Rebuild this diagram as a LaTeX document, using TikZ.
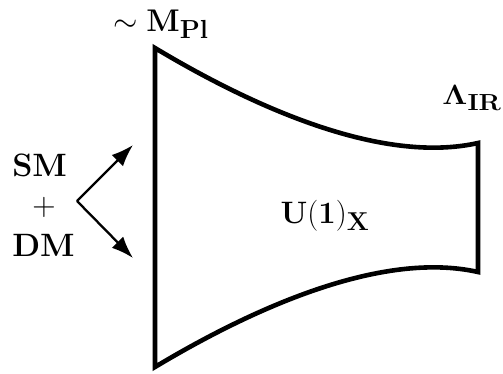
\documentclass[tikz,border=0pt]{standalone}
\usepackage{amsmath}
\usetikzlibrary{arrows.meta}
\begin{document}
\begin{tikzpicture}[x=1pt,y=-1pt,
  wall/.style={line width=4.6pt},
  ray/.style={line width=2.3pt,-{Latex[length=22pt,width=16pt]}},
  lbl/.style={inner sep=0pt,anchor=base,font=\Huge},
  big/.style={scale=1.3}]
\useasboundingbox (0,0) rectangle (503,373);
% wall shape
\coordinate (tl) at (155,48);
\coordinate (tr) at (478,143);
\coordinate (br) at (478,272);
\coordinate (bl) at (155,367);
\draw[wall] (tl) .. controls (250,105) and (380,165) .. (tr)
  -- (br) .. controls (380,250) and (250,310) .. (bl) -- cycle;
% labels
\node[lbl,scale=1.26] (mpl) at (161,31) {$\sim \mathbf{M_{Pl}}$};
\node[lbl,xscale=1.28,yscale=1.12] (lir) at (472,104) {$\mathbf{\Lambda_{IR}}$};
\node[lbl,scale=1.246] (u1) at (325,223) {$\mathbf{U(1)_X}$};
\node[lbl,big,anchor=base west] (sm) at (12,176) {\bfseries SM};
\node[lbl,big,anchor=center] (plus) at (44,207) {$+$};
\node[lbl,big,anchor=base west] (dm) at (12,256) {\bfseries DM};
% arrows
\coordinate (v) at (77,201);
\coordinate (up) at (133,145);
\coordinate (dn) at (133,258);
\draw[ray] (v) -- (up);
\draw[ray] (v) -- (dn);
\end{tikzpicture}
\end{document}
